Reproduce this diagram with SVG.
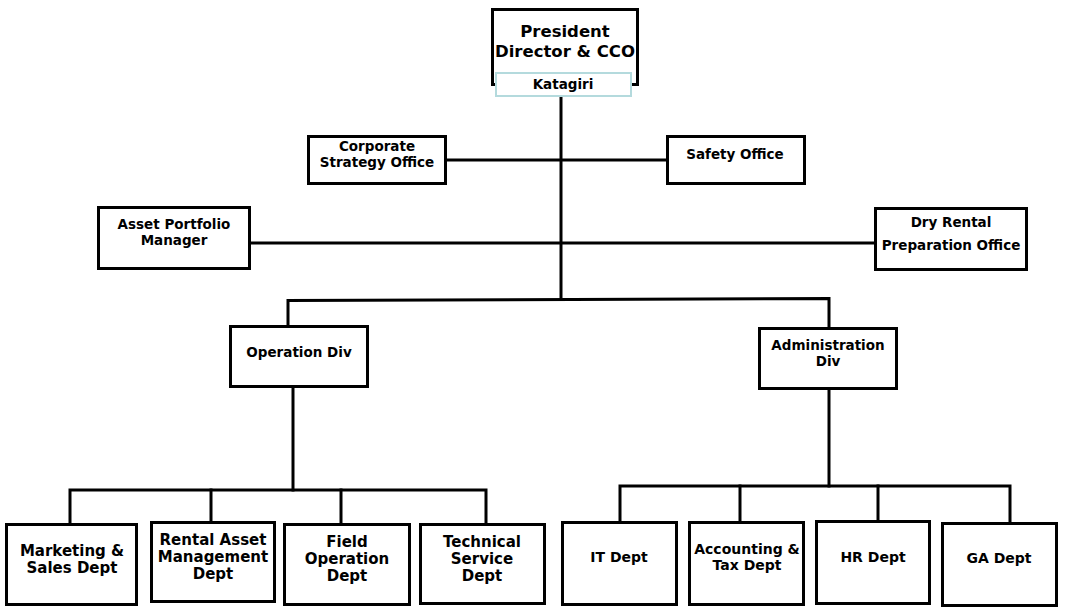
<svg xmlns="http://www.w3.org/2000/svg" width="1066" height="613" viewBox="0 0 1066 613">
<style>
.box{fill:#fff;stroke:#000;stroke-width:3}
.name{fill:#fff;stroke:#b4dadd;stroke-width:2}
.c{fill:none;stroke:#000;stroke-width:3;stroke-linecap:square}
text{font-family:"DejaVu Sans",Verdana,sans-serif;font-weight:bold;fill:#000;text-anchor:middle}
.t{font-size:13.5px}
.r{font-size:14px}
.d{font-size:15px}
.p{font-size:16.5px}
</style>
<rect width="1066" height="613" fill="#fff"/>
<g id="connectors">
<line class="c" x1="561" y1="97" x2="561" y2="299"/>
<line class="c" x1="447" y1="160" x2="666" y2="160"/>
<line class="c" x1="251" y1="243" x2="874" y2="243"/>
<polyline class="c" points="288,325 288,300.5 829,298.5 829,327"/>
<line class="c" x1="293" y1="388" x2="293" y2="490"/>
<polyline class="c" points="70,523 70,490 486,490 486,523"/>
<line class="c" x1="211" y1="490" x2="211" y2="521"/>
<line class="c" x1="341" y1="490" x2="341" y2="523"/>
<line class="c" x1="829" y1="390" x2="829" y2="486"/>
<polyline class="c" points="620,521 620,486 1010,486 1010,522"/>
<line class="c" x1="740" y1="486" x2="740" y2="521"/>
<line class="c" x1="878" y1="486" x2="878" y2="520"/>
</g>
<g id="president">
<rect class="box" x="492.5" y="9.5" width="145" height="75"/>
<text class="p" x="565" y="37">President</text>
<text class="p" x="565" y="57">Director &amp; CCO</text>
<rect class="name" x="496" y="73" width="135" height="23"/>
<text class="t" x="563" y="89">Katagiri</text>
</g>
<g id="corporate-strategy">
<rect class="box" x="308.5" y="136.5" width="137" height="47"/>
<text class="t" x="377" y="151">Corporate</text>
<text class="t" x="377" y="167">Strategy Office</text>
</g>
<g id="safety">
<rect class="box" x="667.5" y="136.5" width="137" height="47"/>
<text class="t" x="735" y="159">Safety Office</text>
</g>
<g id="asset-portfolio">
<rect class="box" x="98.5" y="207.5" width="151" height="61"/>
<text class="t" x="174" y="229">Asset Portfolio</text>
<text class="t" x="174" y="245">Manager</text>
</g>
<g id="dry-rental">
<rect class="box" x="875.5" y="208.5" width="151" height="61"/>
<text class="t" x="951" y="227">Dry Rental</text>
<text class="t" x="951" y="250">Preparation Office</text>
</g>
<g id="operation-div">
<rect class="box" x="230.5" y="326.5" width="137" height="60"/>
<text class="t" x="299" y="357">Operation Div</text>
</g>
<g id="administration-div">
<rect class="box" x="759.5" y="328.5" width="137" height="60"/>
<text class="t" x="828" y="350">Administration</text>
<text class="t" x="828" y="366">Div</text>
</g>
<g id="marketing">
<rect class="box" x="6.5" y="524.5" width="130" height="80"/>
<text class="d" x="72" y="556">Marketing &amp;</text>
<text class="d" x="72" y="573">Sales Dept</text>
</g>
<g id="rental-asset">
<rect class="box" x="151.5" y="522.5" width="123" height="79"/>
<text class="d" x="213" y="545">Rental Asset</text>
<text class="d" x="213" y="562">Management</text>
<text class="d" x="213" y="579">Dept</text>
</g>
<g id="field-operation">
<rect class="box" x="284.5" y="524.5" width="125" height="80"/>
<text class="d" x="347" y="547">Field</text>
<text class="d" x="347" y="564">Operation</text>
<text class="d" x="347" y="581">Dept</text>
</g>
<g id="technical-service">
<rect class="box" x="420.5" y="524.5" width="124" height="79"/>
<text class="d" x="482" y="547">Technical</text>
<text class="d" x="482" y="564">Service</text>
<text class="d" x="482" y="581">Dept</text>
</g>
<g id="it">
<rect class="box" x="562.5" y="522.5" width="114" height="82"/>
<text class="r" x="619" y="562">IT Dept</text>
</g>
<g id="accounting">
<rect class="box" x="689.5" y="522.5" width="114" height="82"/>
<text class="r" x="747" y="554">Accounting &amp;</text>
<text class="r" x="747" y="570">Tax Dept</text>
</g>
<g id="hr">
<rect class="box" x="816.5" y="521.5" width="113" height="82"/>
<text class="r" x="873" y="562">HR Dept</text>
</g>
<g id="ga">
<rect class="box" x="942.5" y="523.5" width="114" height="82"/>
<text class="r" x="999" y="563">GA Dept</text>
</g>
</svg>
